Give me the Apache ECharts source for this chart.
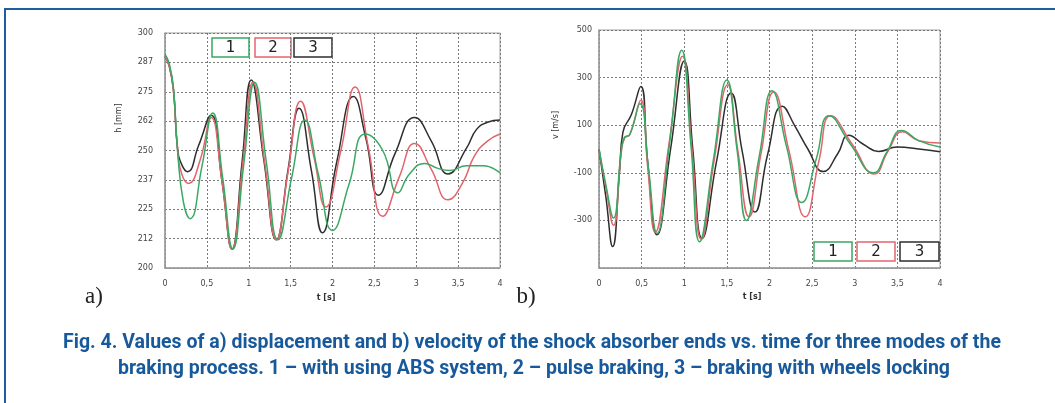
<!DOCTYPE html>
<html>
<head>
<meta charset="utf-8">
<script src="https://cdn.jsdelivr.net/npm/echarts@6/dist/echarts.min.js"></script>
<style>
html, body { margin: 0; padding: 0; background: #fff; }
#chart { width: 1055px; height: 403px; }
</style>
</head>
<body>
<div id="chart"></div>
<script>
// tick labels
const tTickLabels = ['0', '0,5', '1', '1,5', '2', '2,5', '3', '3,5', '4'];
const hTickLabels = ['200', '212', '225', '237', '250', '262', '275', '287', '300'];
const vTickLabels = ['', '-300', '-100', '100', '300', '500'];

// a) displacement h [mm] vs t [s]
const tH1 = [0, 0.05, 0.1, 0.15, 0.22, 0.3, 0.44, 0.57, 0.69, 0.81, 0.94, 1.07, 1.21, 1.35, 1.51, 1.67, 1.83, 2.0, 2.2, 2.39, 2.6, 2.78, 2.92, 3.1, 3.25, 3.4, 3.6, 3.8, 4.0];
const h1 = [291, 287, 277, 250, 228, 221, 243, 266, 238, 208, 244, 279, 245, 212, 238, 263, 240, 216, 236, 257, 250, 232, 240, 244.5, 242.5, 241.5, 243.5, 243.5, 240.5];
const tH2 = [0, 0.05, 0.1, 0.15, 0.2, 0.28, 0.42, 0.55, 0.68, 0.8, 0.93, 1.05, 1.19, 1.33, 1.47, 1.62, 1.78, 1.92, 2.1, 2.27, 2.43, 2.6, 2.8, 2.98, 3.18, 3.38, 3.55, 3.7, 3.85, 4.0];
const h2 = [290, 286, 276, 250, 240, 236, 246, 264, 237, 208, 245, 279, 245, 212, 241, 271, 247, 226, 250, 277, 251, 222, 239, 253, 242, 229, 236, 248, 254, 257];
const tH3 = [0, 0.05, 0.1, 0.15, 0.2, 0.27, 0.4, 0.55, 0.68, 0.8, 0.92, 1.03, 1.18, 1.33, 1.47, 1.6, 1.75, 1.88, 2.05, 2.25, 2.4, 2.55, 2.75, 2.98, 3.18, 3.38, 3.6, 3.72, 3.85, 4.0];
const h3 = [290, 286, 276, 251, 244, 241, 252, 265, 237, 208, 245, 280, 246, 212, 242, 268, 241, 215, 245, 273, 255, 231, 249, 264, 254, 240, 251, 259, 262, 263];

// b) velocity v [m/s] vs t [s]
const tV1 = [0, 0.08, 0.17, 0.26, 0.3, 0.36, 0.48, 0.58, 0.68, 0.83, 0.97, 1.08, 1.18, 1.34, 1.5, 1.62, 1.73, 1.88, 2.03, 2.2, 2.38, 2.55, 2.7, 2.95, 3.22, 3.38, 3.55, 3.75, 4.0];
const v1 = [0, -150, -290, -10, 50, 60, 190, -80, -355, 30, 415, 10, -390, -50, 290, -5, -300, -30, 245, 10, -225, -40, 140, 20, -100, -10, 78, 35, 8];
const tV2 = [0, 0.08, 0.17, 0.26, 0.3, 0.36, 0.49, 0.57, 0.66, 0.82, 0.98, 1.09, 1.2, 1.35, 1.51, 1.63, 1.76, 1.9, 2.05, 2.23, 2.42, 2.58, 2.72, 2.97, 3.23, 3.39, 3.56, 3.75, 4.0];
const v2 = [0, -160, -320, -20, 45, 60, 205, -70, -350, 20, 390, 0, -380, -50, 270, -10, -285, -20, 240, -10, -285, -50, 140, 20, -105, -10, 72, 35, 25];
const tV3 = [0, 0.08, 0.16, 0.24, 0.28, 0.38, 0.49, 0.57, 0.68, 0.84, 1.0, 1.1, 1.21, 1.38, 1.55, 1.68, 1.83, 1.98, 2.15, 2.3, 2.45, 2.63, 2.8, 2.93, 3.1, 3.28, 3.5, 3.75, 4.0];
const v3 = [0, -200, -410, -100, 70, 145, 263, -50, -360, 0, 370, 0, -375, -50, 235, -10, -265, -20, 180, 95, 0, -95, -20, 58, 20, -10, 8, 0, -12];

const seriesNames = ['1', '2', '3'];
const colors = ['#3aa863', '#e2656d', '#2e2e2e'];
const captionLines = [
  'Fig. 4. Values of a) displacement and b) velocity of the shock absorber ends vs. time for three modes of the',
  'braking process. 1 – with using ABS system, 2 – pulse braking, 3 – braking with wheels locking'
];

const pairs = (ts, vs) => ts.map((t, i) => [t, vs[i]]);

const xAxisBase = (gridIndex) => ({
  gridIndex: gridIndex,
  type: 'value',
  min: 0,
  max: 4,
  interval: 0.5,
  axisLine: { onZero: false, lineStyle: { color: '#9a9a9a', width: 1.5 } },
  axisTick: { show: false },
  axisLabel: {
    formatter: (value, index) => tTickLabels[index],
    fontSize: 8,
    fontFamily: 'DejaVu Sans',
    color: '#444',
    margin: 12
  },
  splitLine: { lineStyle: { type: [2, 2], color: '#7a7a7a' } }
});

const yAxisBase = (gridIndex, min, max, interval, labels, margin) => ({
  gridIndex: gridIndex,
  type: 'value',
  min: min,
  max: max,
  interval: interval,
  axisLine: { show: true, onZero: false, lineStyle: { color: '#9a9a9a', width: 1.5 } },
  axisTick: { show: false },
  axisLabel: {
    formatter: (value, index) => labels[index],
    fontSize: 8,
    fontFamily: 'DejaVu Sans',
    color: '#444',
    margin: margin
  },
  splitLine: { lineStyle: { type: [2, 2], color: '#7a7a7a' } }
});

const lineSeries = (name, data, color, gridIndex) => ({
  name: name,
  type: 'line',
  xAxisIndex: gridIndex,
  yAxisIndex: gridIndex,
  data: data,
  smooth: 0.5,
  symbol: 'none',
  lineStyle: { color: color, width: 1.5 },
  z: 3
});

const legendBox = (x, y, w, label, color) => [
  { type: 'rect', shape: { x: x, y: y, width: w, height: 19 }, style: { fill: 'none', stroke: color, lineWidth: 1.5 } },
  { type: 'text', x: x + w / 2, y: y + 10, style: { text: label, fill: '#222', font: '15px "DejaVu Sans"', align: 'center', verticalAlign: 'middle' } }
];

const plainText = (text, x, y, font, fill, rotation) => ({
  type: 'text', x: x, y: y, rotation: rotation || 0,
  style: { text: text, fill: fill || '#333', font: font, align: 'center', verticalAlign: 'middle' }
});

const option = {
  backgroundColor: '#fff',
  animation: false,
  grid: [
    { left: 165, top: 33, width: 335, height: 235, show: true, borderColor: '#a0a0a0', borderWidth: 1 },
    { left: 599, top: 30, width: 341, height: 238, show: true, borderColor: '#a0a0a0', borderWidth: 1 }
  ],
  xAxis: [xAxisBase(0), xAxisBase(1)],
  yAxis: [
    yAxisBase(0, 200, 300, 12.5, hTickLabels, 12),
    yAxisBase(1, -500, 500, 200, vTickLabels, 7)
  ],
  series: [
    lineSeries(seriesNames[2], pairs(tH3, h3), colors[2], 0),
    lineSeries(seriesNames[1], pairs(tH2, h2), colors[1], 0),
    lineSeries(seriesNames[0], pairs(tH1, h1), colors[0], 0),
    lineSeries(seriesNames[2], pairs(tV3, v3), colors[2], 1),
    lineSeries(seriesNames[1], pairs(tV2, v2), colors[1], 1),
    lineSeries(seriesNames[0], pairs(tV1, v1), colors[0], 1)
  ],
  graphic: [
    // blue frame
    { type: 'rect', shape: { x: 5, y: 9, width: 1070, height: 410 }, style: { fill: 'none', stroke: '#1d5f9e', lineWidth: 2 } },
    ...legendBox(212, 38, 37, seriesNames[0], colors[0]),
    ...legendBox(255, 38, 36, seriesNames[1], colors[1]),
    ...legendBox(294, 38, 38, seriesNames[2], colors[2]),
    ...legendBox(814, 242, 38, seriesNames[0], colors[0]),
    ...legendBox(857, 242, 38, seriesNames[1], colors[1]),
    ...legendBox(900, 242, 39, seriesNames[2], colors[2]),
    plainText('h [mm]', 119, 118, '8px "DejaVu Sans"', '#333', Math.PI / 2),
    plainText('v [m/s]', 556, 125, '8px "DejaVu Sans"', '#333', Math.PI / 2),
    plainText('t [s]', 326, 298, 'bold 8px "DejaVu Sans"'),
    plainText('t [s]', 752, 297, 'bold 8px "DejaVu Sans"'),
    plainText('a)', 94, 297, '23px "Liberation Serif"', '#222'),
    plainText('b)', 526, 297, '23px "Liberation Serif"', '#222'),
    plainText(captionLines[0], 532, 343, 'bold 19.5px Roboto', '#17599b'),
    plainText(captionLines[1], 534, 369, 'bold 19.5px Roboto', '#17599b')
  ]
};

const chart = echarts.init(document.getElementById('chart'), null, { renderer: 'canvas' });
chart.setOption(option);
</script>
</body>
</html>
